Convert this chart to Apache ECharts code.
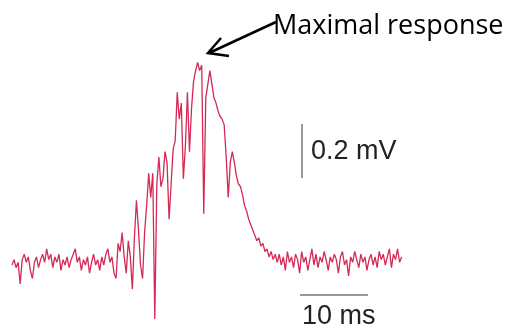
<!DOCTYPE html>
<html lang="en">
<head>
    <meta charset="UTF-8">
    <title>Maximal response</title>
    <script src="https://cdn.jsdelivr.net/npm/echarts@6/dist/echarts.min.js"></script>
    <style>
        html, body { margin: 0; background: #fff; }
        #main { width: 512px; height: 332px; }
    </style>
</head>
<body>
<div id="main"></div>
<script type="text/javascript">
    // sampling step of the trace, ms
    var sampleStep = 0.3;

    // trace amplitude, mV
    var baselineBefore = [
        0.00, 0.02, -0.01, 0.01, -0.07, 0.02, 0.04, 0.01, 0.03, -0.02,
        -0.05, 0.01, 0.03, -0.01, 0.02, 0.04, 0.01, 0.06, 0.02, 0.04,
        -0.01, 0.03, 0.01, 0.04, -0.02, 0.02, 0.00, 0.03, -0.01, 0.02,
        0.04, 0.06, 0.01, 0.03, -0.02, 0.02, 0.00, 0.03, -0.03, 0.01,
        0.04, 0.00, 0.02, -0.02, 0.03, 0.00, 0.04, 0.06, 0.01
    ];
    var response = [
        0.03, -0.03, -0.05, 0.08, 0.05, 0.12, 0.03, -0.03, 0.09, 0.03,
        -0.09, 0.10, 0.24, 0.13, 0.00, -0.05, 0.12, 0.22, 0.34, 0.25,
        0.34, -0.20, 0.30, 0.40, 0.29, 0.32, 0.42, 0.38, 0.17, 0.30,
        0.43, 0.46, 0.64, 0.54, 0.60, 0.32, 0.44, 0.64, 0.42, 0.58,
        0.68, 0.72, 0.75, 0.72, 0.74, 0.19, 0.62, 0.67, 0.72, 0.67,
        0.62, 0.60, 0.57, 0.55, 0.54, 0.52, 0.40, 0.25, 0.38, 0.42,
        0.38, 0.33, 0.30, 0.29, 0.26, 0.22, 0.20, 0.17, 0.15, 0.13,
        0.11, 0.09, 0.10, 0.07, 0.08, 0.05, 0.06, 0.03, 0.05, 0.02,
        0.04
    ];
    var baselineAfter = [
        0.01, 0.04, 0.00, 0.03, -0.02, 0.05, 0.01, 0.03, -0.01, 0.04,
        0.02, -0.03, 0.05, 0.01, 0.03, -0.02, 0.02, 0.06, 0.00, 0.04,
        -0.01, 0.03, 0.01, 0.05, 0.02, -0.02, 0.03, 0.01, 0.04, 0.02,
        -0.03, 0.03, 0.05, 0.00, 0.02, -0.04, 0.03, 0.01, 0.05, 0.02,
        -0.01, 0.04, 0.01, 0.03, -0.02, 0.02, 0.04, 0.00, 0.03, -0.01,
        0.05, 0.02, 0.04, 0.00, 0.03, 0.06, -0.01, 0.04, 0.02, 0.06,
        0.01, 0.03
    ];

    // scale bars: 0.2 mV and 10 ms
    var scaleBarV = [[42.65, 0.322], [42.65, 0.522]];
    var scaleBarH = [[42.35, -0.111], [52.35, -0.111]];

    var trace = baselineBefore.concat(response, baselineAfter).map(function (v, i) {
        return [i * sampleStep, v];
    });

    var myChart = echarts.init(document.getElementById('main'));
    var option = {
        backgroundColor: '#fff',
        animation: false,
        grid: { left: 0, right: 0, top: 0, bottom: 0 },
        xAxis: { type: 'value', min: -1.765, max: 73.53, show: false },
        yAxis: { type: 'value', min: -0.2481, max: 0.9815, show: false },
        series: [
            {
                type: 'line',
                data: trace,
                showSymbol: false,
                lineStyle: { color: '#d42a55', width: 1.3 }
            },
            {
                type: 'line',
                data: scaleBarV,
                showSymbol: false,
                lineStyle: { color: '#777', width: 1.5 }
            },
            {
                type: 'line',
                data: scaleBarH,
                showSymbol: false,
                lineStyle: { color: '#777', width: 1.5 }
            }
        ],
        graphic: [
            {
                type: 'text', x: 311, y: 152,
                style: { text: '0.2 mV', font: '27px "Liberation Sans"', fill: '#222', verticalAlign: 'middle' }
            },
            {
                type: 'text', x: 302, y: 317,
                style: { text: '10 ms', font: '27px "Liberation Sans"', fill: '#222', verticalAlign: 'middle' }
            },
            {
                type: 'text', x: 273, y: 26,
                style: { text: 'Maximal response', font: '27px "Open Sans"', fill: '#000', verticalAlign: 'middle' }
            },
            {
                type: 'line',
                shape: { x1: 276, y1: 22, x2: 209, y2: 53 },
                style: { stroke: '#000', lineWidth: 2.5 }
            },
            {
                type: 'polyline',
                shape: { points: [[221, 38], [208, 53], [229, 56]] },
                style: { stroke: '#000', lineWidth: 2.5, fill: null }
            }
        ]
    };
    myChart.setOption(option);
</script>
</body>
</html>
